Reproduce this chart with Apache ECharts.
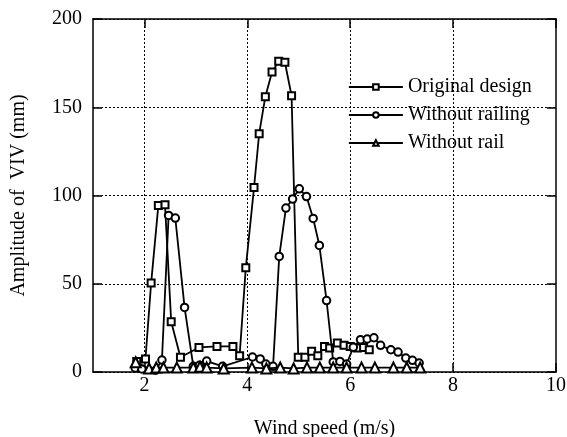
<!DOCTYPE html>
<html>
<head>
<meta charset="utf-8">
<title>Amplitude of VIV</title>
<script src="https://cdn.jsdelivr.net/npm/echarts@6/dist/echarts.min.js"></script>
<style>
    html, body { margin: 0; padding: 0; background: #fff; }
    #main { width: 567px; height: 437px; }
</style>
</head>
<body>
<div id="main"></div>
<script>
// 原始设计 (方块)
var originalX = [1.85, 2.02, 2.13, 2.27, 2.40, 2.52, 2.70, 3.06, 3.41, 3.72, 3.85, 3.97, 4.13, 4.23, 4.35, 4.48,
    4.61, 4.73, 4.86, 4.99, 5.12, 5.25, 5.37, 5.50, 5.60, 5.75, 5.88, 6.00, 6.14, 6.26, 6.37]
var originalY = [6, 7.4, 50.4, 94.3, 94.7, 28.5, 8.4, 13.9, 14.5, 14.5, 9.2, 59, 104.5, 135, 156, 170,
    176, 175.5, 156.5, 8.3, 8.3, 11.7, 9.2, 14.5, 13.6, 16.4, 15.1, 14.5, 13.6, 13.9, 12.6]

// 无栏杆 (圆圈)
var railingX = [1.82, 1.95, 2.22, 2.34, 2.47, 2.60, 2.78, 2.95, 3.07, 3.21, 3.52, 4.10, 4.25, 4.36, 4.50, 4.62,
    4.75, 4.88, 5.01, 5.15, 5.28, 5.40, 5.54, 5.67, 5.80, 5.93, 6.06, 6.20, 6.33, 6.46, 6.59, 6.79,
    6.93, 7.08, 7.21, 7.34]
var railingY = [2.3, 1.7, 1.0, 6.8, 88.7, 87.2, 36.6, 3.2, 3.8, 6.2, 3.2, 8.5, 7.4, 4.5, 3.2, 65.5,
    92.9, 98, 103.8, 99.4, 87, 71.7, 40.5, 5.7, 6, 4.5, 14, 18.3, 18.7, 19.4, 15.1, 12.6,
    11.3, 7.9, 6.6, 5.1]

// 无轨道 (三角)
var railX = [1.83, 2.09, 2.23, 2.37, 2.63, 2.95, 3.08, 3.21, 3.54, 4.09, 4.37, 4.64, 4.90, 5.16, 5.41,
    5.67, 5.93, 6.22, 6.48, 6.84, 7.10, 7.36]
var railY = [5.5, 2.0, 2.5, 2.5, 2.5, 2.5, 3.0, 2.5, 2.0, 2.5, 2.0, 2.5, 2.0, 2.5, 2.5,
    2.5, 2.5, 2.5, 2.5, 2.5, 2.5, 2.5]

var seriesNames = ['Original design', 'Without railing', 'Without rail']
var xTicks = [2, 4, 6, 8, 10]
var xGrid = [2, 4, 6, 8]

function pairs(xs, ys) {
    var out = []
    for (var i = 0; i < xs.length; i++) {
        out.push([xs[i], ys[i]])
    }
    return out
}

var font = 'Liberation Serif, Times New Roman, serif'
var dotted = { color: '#000', width: 1, type: [2, 2] }

var myChart = echarts.init(document.getElementById('main'))

// x 轴: min 为 1, 刻度和标签只放在偶数位置
function xAxisDef(pos) {
    return {
        type: 'value',
        position: pos,
        min: 1,
        max: 10,
        interval: 1,
        name: pos == 'bottom' ? 'Wind speed (m/s)' : '',
        nameLocation: 'middle',
        nameGap: 47,
        nameTextStyle: { fontFamily: font, fontSize: 20, color: '#000' },
        axisLine: { show: true, onZero: false, lineStyle: { color: '#000', width: 1.5 } },
        axisTick: { show: true, inside: true, length: 9, customValues: xTicks, lineStyle: { color: '#000', width: 1.5 } },
        axisLabel: {
            show: pos == 'bottom',
            margin: 4,
            customValues: xTicks,
            fontFamily: font,
            fontSize: 20,
            color: '#000'
        },
        splitLine: { show: false }
    }
}

function yAxisDef(pos) {
    return {
        type: 'value',
        position: pos,
        min: 0,
        max: 200,
        interval: 50,
        name: pos == 'left' ? 'Amplitude of  VIV (mm)' : '',
        nameLocation: 'middle',
        nameGap: 64,
        nameTextStyle: { fontFamily: font, fontSize: 20, color: '#000' },
        axisLine: { show: true, onZero: false, lineStyle: { color: '#000', width: 1.5 } },
        axisTick: { show: true, inside: true, length: 9, lineStyle: { color: '#000', width: 1.5 } },
        axisLabel: {
            show: pos == 'left',
            margin: 11,
            fontFamily: font,
            fontSize: 20,
            color: '#000'
        },
        splitLine: { show: pos == 'left', lineStyle: dotted }
    }
}

function lineSeries(name, data, symbol, size, xi) {
    return {
        name: name,
        type: 'line',
        data: data,
        symbol: symbol,
        symbolSize: size,
        showAllSymbol: true,
        color: '#000',
        itemStyle: { color: '#000', borderColor: '#000', borderWidth: 1 },
        lineStyle: { color: '#000', width: 1.8 },
        emphasis: { disabled: true },
        animation: false,
        z: 3 + xi
    }
}

// 竖直网格线 (点线) 用 markLine 画
var gridLines = []
for (var g = 0; g < xGrid.length; g++) {
    gridLines.push({ xAxis: xGrid[g] })
}

var series0 = lineSeries(seriesNames[0], pairs(originalX, originalY), 'emptyRect', 7, 0)
series0.markLine = {
    silent: true,
    symbol: 'none',
    label: { show: false },
    lineStyle: dotted,
    emphasis: { disabled: true },
    z: 1,
    data: gridLines
}

var option = {
    backgroundColor: '#fff',
    animation: false,
    grid: { left: 93, right: 11, top: 19, bottom: 65, outerBoundsMode: 'none', containLabel: false },
    legend: {
        orient: 'vertical',
        left: 343,
        top: 72,
        itemWidth: 54,
        itemHeight: 7,
        itemGap: 8,
        data: seriesNames,
        textStyle: { fontFamily: font, fontSize: 20, color: '#000' },
        itemStyle: { borderWidth: 1 },
        lineStyle: { width: 1.8 }
    },
    xAxis: [xAxisDef('bottom'), xAxisDef('top')],
    yAxis: [yAxisDef('left'), yAxisDef('right')],
    series: [
        series0,
        lineSeries(seriesNames[1], pairs(railingX, railingY), 'emptyCircle', 7.5, 1),
        lineSeries(seriesNames[2], pairs(railX, railY), 'emptyTriangle', 10, 2)
    ]
}

myChart.setOption(option)
</script>
</body>
</html>
